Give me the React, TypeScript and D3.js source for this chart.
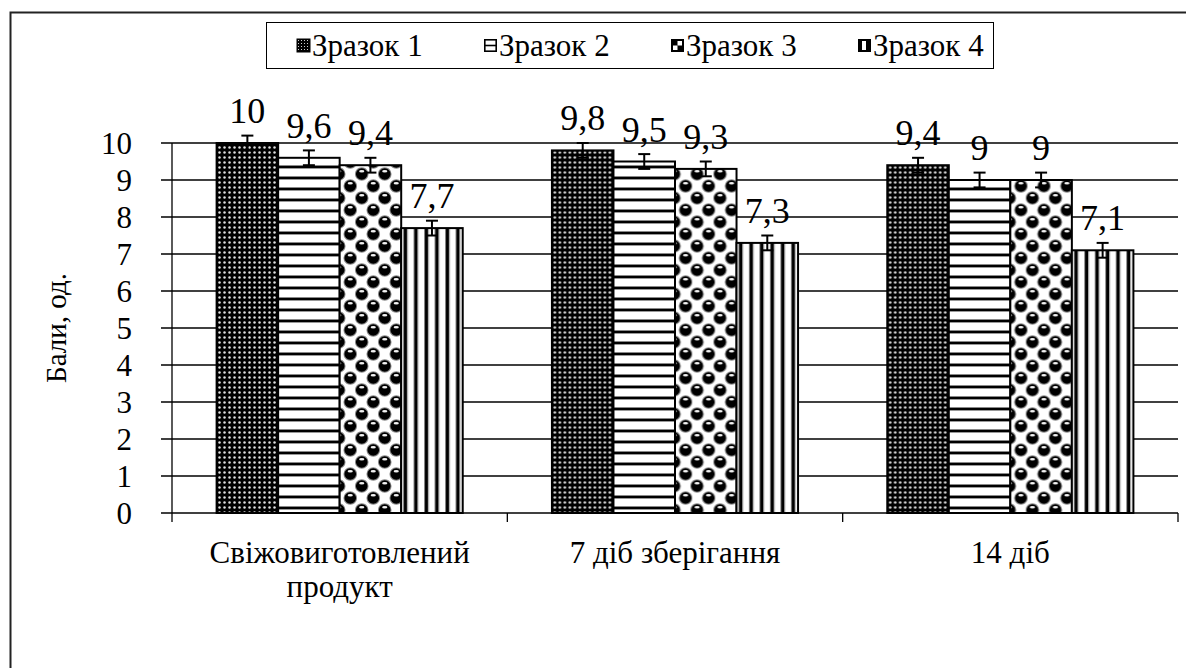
import React from "react";
import * as d3 from "d3";

const categories = ["Свіжовиготовлений продукт", "7 діб зберігання", "14 діб"];
const series = ["Зразок 1", "Зразок 2", "Зразок 3", "Зразок 4"];
const sample1 = [10, 9.8, 9.4];
const sample2 = [9.6, 9.5, 9.0];
const sample3 = [9.4, 9.3, 9.0];
const sample4 = [7.7, 7.3, 7.1];
const errors = [0.2, 0.2, 0.2, 0.2];
const yTicks = [0, 1, 2, 3, 4, 5, 6, 7, 8, 9, 10];
const yTitle = "Бали, од.";

const seriesValues = [sample1, sample2, sample3, sample4];
const patternIds = ["p1", "p2", "p3", "p4"];

const W = 1186;
const H = 668;
const FONT = '"Times New Roman"';

const fmt = (v: number) => String(v).replace(".", ",");

export default function App() {
  const left = 172;
  const right = 1178;
  const top = 143;
  const bottom = 513;

  const y = d3.scaleLinear().domain([0, 10]).range([bottom, top]);
  const x0 = d3.scaleBand<string>().domain(categories).range([left, right]).paddingInner(0).paddingOuter(0);
  const x1 = d3
    .scaleBand<string>()
    .domain(series)
    .range([0, x0.bandwidth()])
    .paddingInner(0)
    .paddingOuter(0.725);

  const legendX0 = 297;
  const legendStep = 187;
  const ts = { fontFamily: FONT };

  return (
    <svg
      width={W}
      height={H}
      viewBox={`0 0 ${W} ${H}`}
      style={{ position: "absolute", left: 0, top: 0, background: "#fff" }}
    >
      <defs>
        <pattern id="p1" patternUnits="userSpaceOnUse" width={5} height={5}>
          <rect width={5} height={5} fill="#000" />
          <circle cx={2.5} cy={2.5} r={1.25} fill="#e0e0e0" />
        </pattern>
        <pattern id="p2" patternUnits="userSpaceOnUse" width={11} height={11}>
          <rect width={11} height={11} fill="#fff" />
          <rect y={0} width={11} height={1} fill="#888" />
          <rect y={1} width={11} height={2} fill="#000" />
          <rect y={3} width={11} height={1} fill="#999" />
        </pattern>
        <pattern id="p3" patternUnits="userSpaceOnUse" width={23} height={24}>
          <rect width={23} height={24} fill="#fff" />
          {[
            [5.75, 6],
            [17.25, 18],
            [17.25 - 23, 18],
            [5.75 + 23, 6],
            [5.75, 6 + 24],
            [17.25, 18 - 24],
          ].map(([cx, cy], i) => (
            <g key={i}>
              <circle cx={cx} cy={cy} r={6.8} fill="#8a8a8a" />
              <circle cx={cx} cy={cy} r={5.8} fill="#000" />
              <ellipse cx={cx} cy={cy - 2.8} rx={2.6} ry={1.3} fill="#f2f2f2" />
            </g>
          ))}
        </pattern>
        <pattern id="p4" patternUnits="userSpaceOnUse" width={10.5} height={10}>
          <rect width={10.5} height={10} fill="#fff" />
          <rect x={0} width={1} height={10} fill="#888" />
          <rect x={1} width={3} height={10} fill="#000" />
          <rect x={4} width={1} height={10} fill="#999" />
        </pattern>
        <pattern id="lp1" patternUnits="userSpaceOnUse" width={3} height={3}>
          <rect width={3} height={3} fill="#000" />
          <rect x={1} y={1} width={1} height={1} fill="#ccc" />
        </pattern>
      </defs>

      {/* outer chart border */}
      <path d={`M10.5,${H + 2} L10.5,12.5 L${W + 2},12.5`} fill="none" stroke="#222" strokeWidth={2} />

      {/* legend */}
      <rect x={266.5} y={22.5} width={727} height={46} fill="#fff" stroke="#000" strokeWidth={1} />
      {series.map((s, i) => {
        const mx = legendX0 + i * legendStep;
        const my = 39;
        const sz = 13;
        let marker: React.ReactNode = null;
        if (i === 0) {
          marker = <rect x={mx} y={my} width={sz} height={sz} fill="url(#lp1)" stroke="#000" strokeWidth={1} />;
        } else if (i === 1) {
          marker = (
            <g>
              <rect x={mx + 0.8} y={my + 0.8} width={sz - 1.6} height={sz - 1.6} fill="#fff" stroke="#000" strokeWidth={1.6} />
              <line x1={mx} x2={mx + sz} y1={my + sz / 2} y2={my + sz / 2} stroke="#000" strokeWidth={1.6} />
            </g>
          );
        } else if (i === 2) {
          marker = (
            <g>
              <rect x={mx} y={my} width={sz} height={sz} fill="#000" />
              <rect x={mx + sz / 2} y={my + 2} width={sz / 2 - 2} height={sz / 2 - 2} fill="#fff" />
              <rect x={mx + 2} y={my + sz / 2} width={sz / 2 - 2} height={sz / 2 - 2} fill="#fff" />
            </g>
          );
        } else {
          marker = (
            <g>
              <rect x={mx} y={my} width={sz} height={sz} fill="#000" />
              <rect x={mx + 4} y={my + 2} width={4} height={sz - 4} fill="#fff" />
            </g>
          );
        }
        return (
          <g key={s}>
            {marker}
            <text x={mx + sz + 2} y={56} fontSize={31} fill="#000" fontFamily={FONT} style={ts}>
              {s}
            </text>
          </g>
        );
      })}

      {/* gridlines */}
      {yTicks.map((t) => (
        <line key={t} x1={left - 11} x2={right} y1={y(t)} y2={y(t)} stroke="#000" strokeWidth={1.3} />
      ))}
      {/* y axis */}
      <line x1={left} x2={left} y1={top} y2={bottom} stroke="#000" strokeWidth={1.3} />
      {yTicks.map((t) => (
        <text key={t} x={132} y={y(t)} dy="0.34em" textAnchor="end" fontSize={31} fill="#000" fontFamily={FONT} style={ts}>
          {t}
        </text>
      ))}
      {/* x category ticks */}
      {[...categories.map((c) => x0(c) as number), right].map((xx, i) => (
        <line key={i} x1={xx} x2={xx} y1={bottom} y2={bottom + 9} stroke="#000" strokeWidth={1.3} />
      ))}

      {/* bars */}
      {categories.map((c, ci) => (
        <g key={c} transform={`translate(${x0(c)},0)`}>
          {series.map((s, si) => {
            const v = seriesValues[si][ci];
            const bx = x1(s) as number;
            const bw = x1.bandwidth();
            return (
              <rect
                key={s}
                x={bx}
                y={y(v)}
                width={bw}
                height={bottom - y(v)}
                fill={`url(#${patternIds[si]})`}
                stroke="#000"
                strokeWidth={2}
              />
            );
          })}
          {series.map((s, si) => {
            const v = seriesValues[si][ci];
            const cx = (x1(s) as number) + x1.bandwidth() / 2;
            const e = errors[si];
            return (
              <g key={s + "e"} stroke="#000" strokeWidth={2}>
                <line x1={cx} x2={cx} y1={y(v + e)} y2={y(v - e)} />
                <line x1={cx - 6} x2={cx + 6} y1={y(v + e)} y2={y(v + e)} />
                <line x1={cx - 6} x2={cx + 6} y1={y(v - e)} y2={y(v - e)} />
              </g>
            );
          })}
          {series.map((s, si) => {
            const v = seriesValues[si][ci];
            const cx = (x1(s) as number) + x1.bandwidth() / 2;
            return (
              <text key={s + "l"} x={cx} y={y(v) - 20} textAnchor="middle" fontSize={36} fill="#000" fontFamily={FONT} style={ts}>
                {fmt(v)}
              </text>
            );
          })}
        </g>
      ))}

      {/* x category labels */}
      {categories.map((c) => {
        const cx = (x0(c) as number) + x0.bandwidth() / 2;
        const words = c === categories[0] ? ["Свіжовиготовлений", "продукт"] : [c];
        return (
          <text key={c} textAnchor="middle" fontSize={31} fill="#000" fontFamily={FONT} style={ts}>
            {words.map((w, i) => (
              <tspan key={i} x={cx} y={563 + i * 34}>
                {w}
              </tspan>
            ))}
          </text>
        );
      })}

      {/* y title */}
      <text
        transform={`translate(66,${(top + bottom) / 2}) rotate(-90)`}
        textAnchor="middle"
        fontSize={29}
        fill="#000"
        fontFamily={FONT}
        style={ts}
      >
        {yTitle}
      </text>
    </svg>
  );
}
